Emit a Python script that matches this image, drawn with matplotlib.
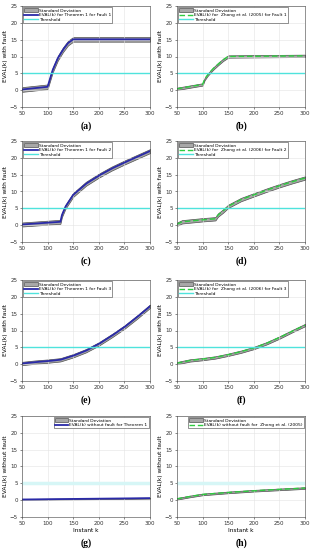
"""Recreation: EVAL(k) with/without fault, 4x2 panels."""
import matplotlib
matplotlib.use("Agg")
import matplotlib.pyplot as plt
import numpy as np

# ---- data ----
k_a = [50, 100, 104, 110, 120, 130, 140, 150, 300]
ev_a = [0.2, 1.0, 3.0, 6.0, 9.5, 12.0, 14.0, 15.1, 15.1]
sd_a = 0.7

k_b = [50, 100, 104, 110, 120, 130, 140, 150, 300]
ev_b = [0.4, 1.7, 3.3, 4.6, 6.3, 7.7, 9.0, 10.0, 10.2]
sd_b = 0.35

k_c = [50, 125, 128, 135, 150, 175, 200, 225, 250, 275, 300]
ev_c = [0.2, 1.0, 3.0, 5.5, 9.0, 12.3, 14.7, 16.8, 18.6, 20.3, 22.0]
sd_c = 0.6

k_d = [50, 60, 100, 125, 130, 140, 150, 175, 200, 225, 250, 275, 300]
ev_d = [0.3, 1.0, 1.6, 1.9, 3.0, 4.2, 5.6, 7.6, 9.0, 10.4, 11.7, 12.9, 14.0]
sd_d = 0.5

k_e = [50, 75, 100, 125, 150, 175, 200, 225, 250, 275, 300]
ev_e = [0.2, 0.6, 0.9, 1.3, 2.5, 4.0, 6.0, 8.4, 11.0, 14.0, 17.2]
sd_e = 0.5

k_f = [50, 75, 100, 125, 150, 175, 200, 225, 250, 275, 300]
ev_f = [0.3, 1.1, 1.5, 2.0, 2.8, 3.7, 4.8, 6.2, 7.9, 9.8, 11.6]
sd_f = 0.35

k_g = [50, 300]
ev_g = [0.2, 0.6]
sd_g = 0.15

k_h = [50, 75, 100, 150, 200, 250, 300]
ev_h = [0.4, 1.1, 1.7, 2.3, 2.8, 3.2, 3.6]
sd_h = 0.25

threshold = 5.0

panels = [
    ("a", k_a, ev_a, sd_a, "EVAL(k) for Theorem 1 for Fault 1", "t1", True),
    ("b", k_b, ev_b, sd_b, "EVAL(k) for  Zhong et al. (2005) for Fault 1", "zh", True),
    ("c", k_c, ev_c, sd_c, "EVAL(k) for Theorem 1 for Fault 2", "t1", True),
    ("d", k_d, ev_d, sd_d, "EVAL(k) for  Zhong et al. (2006) for Fault 2", "zh", True),
    ("e", k_e, ev_e, sd_e, "EVAL(k) for Theorem 1 for Fault 3", "t1", True),
    ("f", k_f, ev_f, sd_f, "EVAL(k) for  Zhong et al. (2006) for Fault 3", "zh", True),
    ("g", k_g, ev_g, sd_g, "EVAL(k) without fault for Theorem 1", "t1", False),
    ("h", k_h, ev_h, sd_h, "EVAL(k) without fault for  Zhong et al. (2005)", "zh", False),
]

W, H = 318, 550
fig = plt.figure(figsize=(W / 100, H / 100), dpi=100)

lefts = [22, 177]
tops = [6, 141, 280, 416]
aw, ah = 128, 101

for i, (tag, k, ev, sd, lab, kind, fault) in enumerate(panels):
    row, col = divmod(i, 2)
    x0, y0 = lefts[col], tops[row]
    ax = fig.add_axes([x0 / W, 1 - (y0 + ah) / H, aw / W, ah / H])

    kk = np.arange(50, 301)
    m = np.interp(kk, k, ev)
    ax.fill_between(kk, m - sd, m + sd, facecolor="#a8a8a8", edgecolor="#505050",
                    linewidth=0.5, label="Standard Deviation")
    if kind == "t1":
        ax.plot(kk, m, color="#2a2aa8", linewidth=1.3, label=lab)
    else:
        ax.plot(kk, m, color="#2ecc40", linewidth=1.0, linestyle=(0, (4, 2)), label=lab)
    if fault:
        ax.axhline(threshold, color="#4fe3dc", linewidth=1.0, label="Threshold")
    else:
        ax.axhline(threshold, color="#d6f6f6", linewidth=2.5)

    ax.set_xlim(50, 300)
    ax.set_ylim(-5, 25)
    ax.set_xticks([50, 100, 150, 200, 250, 300])
    ax.set_yticks([-5, 0, 5, 10, 15, 20, 25])
    ax.tick_params(labelsize=4, length=1.5, width=0.4, pad=1.5, colors="#303030")
    ax.grid(True, color="#e4e4e4", linewidth=0.4)
    for s in ax.spines.values():
        s.set_linewidth(0.4)
        s.set_color("#404040")
    ax.set_ylabel("EVAL(k) with fault" if fault else "EVAL(k) without fault",
                  fontsize=4.2, labelpad=1.5)
    if not fault:
        ax.set_xlabel("Instant k", fontsize=4.2, labelpad=1)
    ax.legend(loc="upper left" if fault else "upper right", fontsize=3.2,
              frameon=True, fancybox=False, edgecolor="#404040", framealpha=1,
              borderpad=0.25, labelspacing=0.1, handlelength=3.0, handletextpad=0.3,
              borderaxespad=0.3).get_frame().set_linewidth(0.4)

    ly = y0 + ah + (19 if fault else 26)
    fig.text((x0 + aw / 2) / W, 1 - ly / H, f"({tag})", ha="center", va="center",
             fontsize=7, fontweight="bold", family="Liberation Serif")

plt.savefig("out.png", dpi=100)
plt.close()
